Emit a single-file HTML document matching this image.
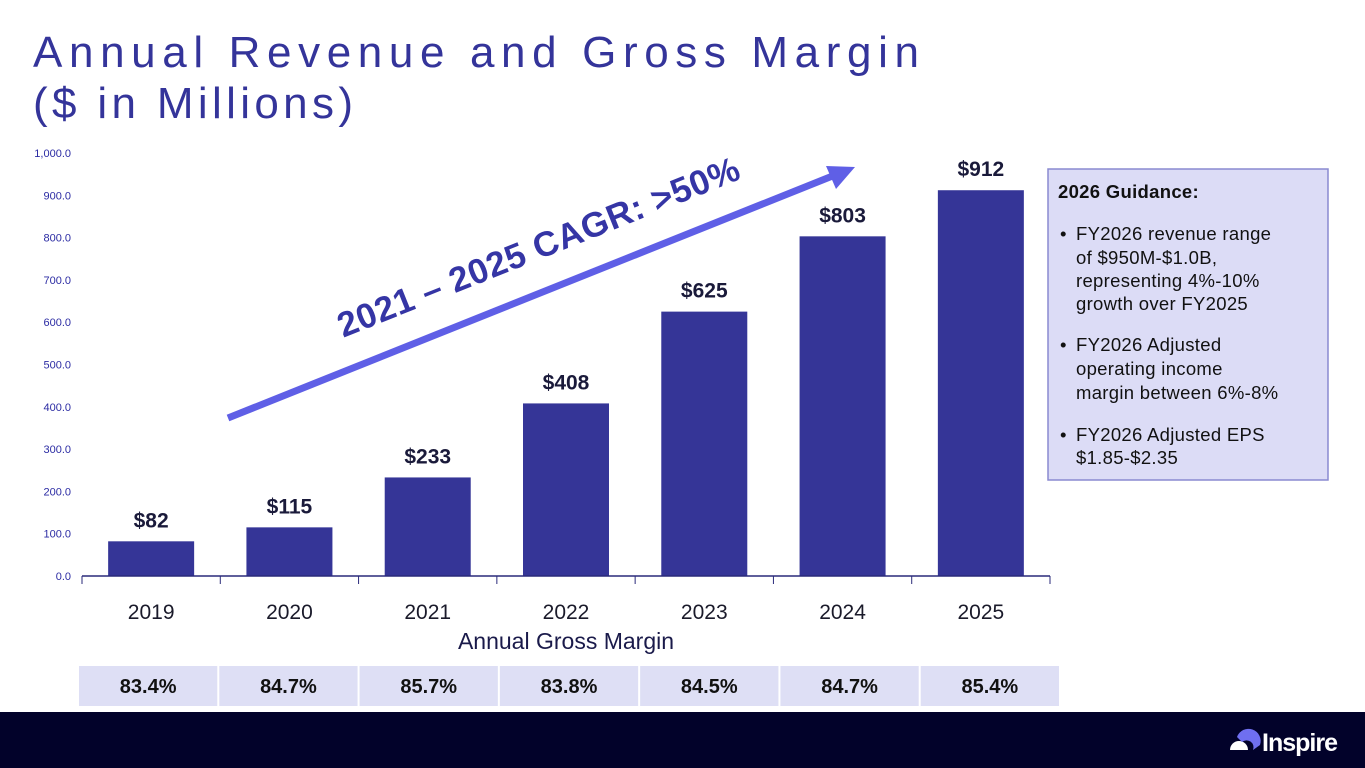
<!DOCTYPE html>
<html><head><meta charset="utf-8"><style>
html,body{margin:0;padding:0;background:#fff;}
svg{display:block;font-family:"Liberation Sans",sans-serif;}
</style></head><body>
<svg id="chart" width="1365" height="768" viewBox="0 0 1365 768">
  <text x="33" y="67" font-size="44" fill="#34349a" letter-spacing="6" textLength="892" lengthAdjust="spacing">Annual Revenue and Gross Margin</text>
  <text x="33" y="118" font-size="44" fill="#34349a" letter-spacing="6" textLength="326" lengthAdjust="spacing">($ in Millions)</text>
  <g id="yaxis"></g>
  <g id="bars"></g>
  <g id="xaxis"></g>
  <g>
    <line x1="228" y1="418" x2="835" y2="175" stroke="#5f5fe6" stroke-width="7"/>
    <polygon points="855,167 826,166 836,189" fill="#5f5fe6"/>
  </g>
  <text transform="translate(543,258) rotate(-21.8)" text-anchor="middle" font-size="35" font-weight="bold" fill="#3535a5" letter-spacing="0.5">2021 – 2025 CAGR: &gt;50%</text>
  <text x="566" y="649" text-anchor="middle" font-size="23" fill="#1a1a4a">Annual Gross Margin</text>
  <g id="margins"></g>
  <g>
    <rect x="1048" y="169" width="280" height="311" fill="#dcdcf6" stroke="#8a8ad0" stroke-width="1.5"/>
    <text font-size="18.5" fill="#111" letter-spacing="0.3">
      <tspan x="1058" y="198" font-weight="bold">2026 Guidance:</tspan>
      <tspan x="1060" y="240">•</tspan><tspan x="1076" y="240">FY2026 revenue range</tspan>
      <tspan x="1076" y="264">of $950M-$1.0B,</tspan>
      <tspan x="1076" y="287">representing 4%-10%</tspan>
      <tspan x="1076" y="310">growth over FY2025</tspan>
      <tspan x="1060" y="351">•</tspan><tspan x="1076" y="351">FY2026 Adjusted</tspan>
      <tspan x="1076" y="375">operating income</tspan>
      <tspan x="1076" y="399">margin between 6%-8%</tspan>
      <tspan x="1060" y="441">•</tspan><tspan x="1076" y="441">FY2026 Adjusted EPS</tspan>
      <tspan x="1076" y="464">$1.85-$2.35</tspan>
    </text>
  </g>
  <rect x="0" y="712" width="1365" height="56" fill="#02022a"/>
  <g transform="translate(30,0)">
    <path d="M1200,750 a9,9 0 0 1 18,0 z" fill="#fff"/>
    <path d="M1207,737 a12,12 0 0 1 23,8 l-7,5 a7,7 0 0 0 -11,-8 z" fill="#6f6ff0"/>
    <text x="1232" y="751" font-size="25" font-weight="bold" fill="#fff" letter-spacing="-1">Inspire</text>
  </g>
</svg>
<script>
const categories = ["2019","2020","2021","2022","2023","2024","2025"];
const revenue = [82,115,233,408,625,803,912];
const revenueLabels = ["$82","$115","$233","$408","$625","$803","$912"];
const grossMargin = ["83.4%","84.7%","85.7%","83.8%","84.5%","84.7%","85.4%"];
const yTicks = [0,100,200,300,400,500,600,700,800,900,1000];
const yTickLabels = ["0.0","100.0","200.0","300.0","400.0","500.0","600.0","700.0","800.0","900.0","1,000.0"];

const NS = "http://www.w3.org/2000/svg";
const x0 = 82, x1 = 1050, yBase = 576, yTop = 153, yMax = 1000;
const bandW = (x1 - x0) / categories.length;
function yScale(v){ return yBase - (v / yMax) * (yBase - yTop); }
function xCenter(i){ return x0 + bandW * (i + 0.5); }
function mk(tag, attrs, parent){ const e = document.createElementNS(NS, tag); for (const k in attrs) e.setAttribute(k, attrs[k]); parent.appendChild(e); return e; }

const yg = document.getElementById('yaxis');
yTicks.forEach((t, i) => {
  const tx = mk('text', {x: 71, y: yScale(t) + 4, 'text-anchor': 'end', 'font-size': 11, fill: '#2b2ba3'}, yg);
  tx.textContent = yTickLabels[i];
  
  
});

const bg = document.getElementById('bars');
revenue.forEach((v, i) => {
  const w = 86;
  const r = mk('rect', {x: xCenter(i) - w/2, y: yScale(v), width: w, height: yBase - yScale(v), fill: '#353597'}, bg);
  
  
  const l = mk('text', {x: xCenter(i), y: yScale(v) - 14, 'text-anchor': 'middle', 'font-size': 21, 'font-weight': 'bold', fill: '#1a1a3a'}, bg);
  l.textContent = revenueLabels[i];
  
  
});

const xg = document.getElementById('xaxis');
mk('line', {x1: x0, y1: yBase, x2: x1, y2: yBase, stroke: '#2a2a7a', 'stroke-width': 1.5}, xg);
for (let i = 0; i <= categories.length; i++) {
  const xx = x0 + bandW * i;
  mk('line', {x1: xx, y1: yBase, x2: xx, y2: yBase + 8, stroke: '#2a2a7a', 'stroke-width': 1}, xg);
}
categories.forEach((c, i) => {
  const t = mk('text', {x: xCenter(i), y: 619, 'text-anchor': 'middle', 'font-size': 21, fill: '#1a1a2a'}, xg);
  t.textContent = c;
  
  
});

const mg = document.getElementById('margins');
const cellX0 = 78, cellX1 = 1060, cellW = (cellX1 - cellX0) / grossMargin.length;
grossMargin.forEach((m, i) => {
  const c = mk('rect', {x: cellX0 + cellW * i + 1, y: 666, width: cellW - 2, height: 40, fill: '#dedff5'}, mg);
  
  
  const t = mk('text', {x: cellX0 + cellW * (i + 0.5), y: 693, 'text-anchor': 'middle', 'font-size': 20, 'font-weight': 'bold', fill: '#111'}, mg);
  t.textContent = m;
  
  
});
</script>
</body></html>
